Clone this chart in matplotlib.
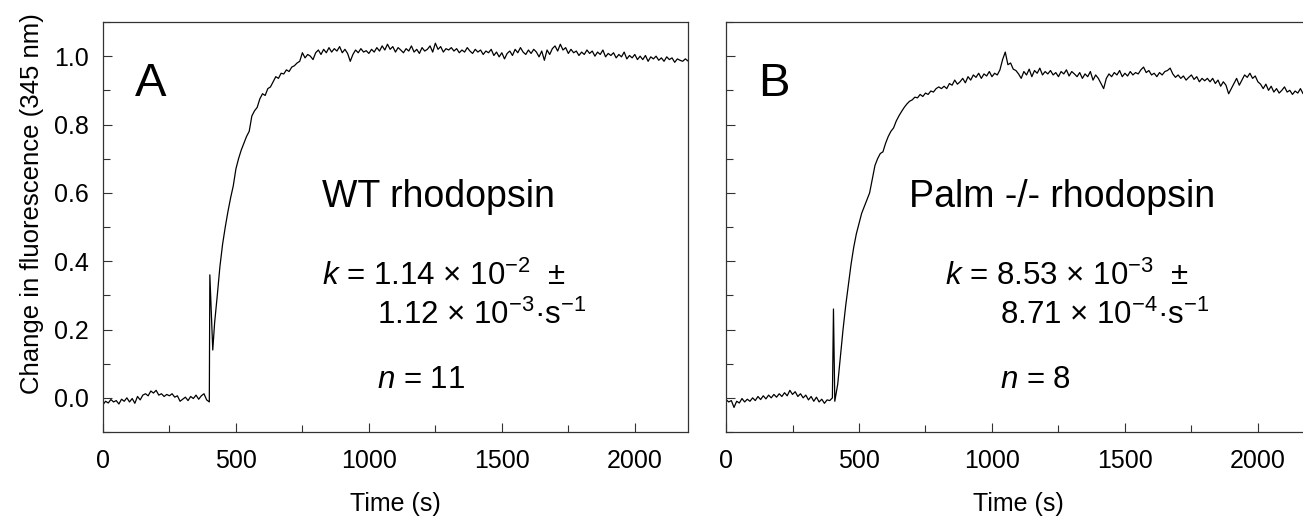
import matplotlib
matplotlib.use('Agg')
import matplotlib.pyplot as plt
from matplotlib.ticker import MultipleLocator

plt.rcParams['font.family'] = ['Liberation Sans', 'DejaVu Sans']
plt.rcParams['mathtext.fontset'] = 'custom'
plt.rcParams['mathtext.rm'] = 'Liberation Sans'
plt.rcParams['mathtext.it'] = 'Liberation Sans:italic'

# sampling times (s): baseline, injection spike, rise + plateau
t_wt = list(range(0, 400, 10)) + [400, 402, 413] + list(range(420, 2201, 10))
t_palm = list(range(0, 400, 10)) + [400, 404, 409] + list(range(420, 2201, 10))

# WT rhodopsin trace
wt_base = [-0.02, -0.01, -0.015, -0.005, -0.012, -0.008, -0.018, -0.004, -0.01, 0.0,
           -0.012, -0.002, -0.016, 0.004, -0.006, 0.008, 0.012, 0.006, 0.02, 0.014,
           0.022, 0.008, 0.012, 0.004, 0.01, 0.006, 0.012, 0.002, 0.006, -0.01,
           -0.004, 0.002, -0.008, 0.004, -0.002, 0.008, -0.004, 0.006, 0.012, -0.006]
wt_spike = [-0.012, 0.36, 0.14]
wt_rise = [0.22, 0.30, 0.385, 0.45, 0.50, 0.545, 0.585, 0.62, 0.67, 0.70,
           0.725, 0.745, 0.765, 0.78, 0.825, 0.84, 0.85, 0.875, 0.89, 0.885,
           0.905, 0.91, 0.925, 0.94, 0.935, 0.95, 0.948, 0.96, 0.955, 0.968,
           0.972, 0.98, 0.985, 1.01, 0.995, 1.005, 1.0, 0.99, 1.01, 1.018]
wt_plateau = [1.005, 1.02, 1.01, 1.025, 1.012, 1.022, 1.015, 1.028, 1.01, 1.02,
              1.008, 0.985, 1.005, 1.018, 1.01, 1.022, 1.012, 1.016, 1.008, 1.02,
              1.012, 1.025, 1.015, 1.03, 1.018, 1.035, 1.02, 1.028, 1.012, 1.025,
              1.018, 1.01, 1.022, 1.015, 1.03, 1.012, 1.02, 1.008, 1.025, 1.015,
              1.02, 1.03, 1.012, 1.038, 1.02, 1.028, 1.012, 1.022, 1.018, 1.025,
              1.015, 1.022, 1.01, 1.018, 1.012, 1.025, 1.015, 1.008, 1.02, 1.012,
              1.018, 1.005, 1.015, 1.01, 1.02, 1.002, 1.012, 0.998, 1.01, 0.992,
              1.008, 1.015, 1.002, 1.02, 1.01, 1.025, 1.012, 1.005, 1.018, 1.008,
              1.02, 1.012, 0.998, 1.015, 0.988, 1.018, 1.005, 1.022, 1.03, 1.015,
              1.035, 1.018, 1.025, 1.008, 1.02, 1.01, 1.015, 1.002, 1.012, 1.005,
              1.018, 1.008, 1.015, 1.0, 1.012, 1.005, 1.018, 0.998, 1.008, 1.002,
              1.01, 0.995, 1.005, 0.998, 1.012, 0.992, 1.002, 0.995, 1.005, 0.99,
              1.0, 0.99, 1.002, 0.985, 0.998, 0.992, 1.0, 0.988, 0.995, 0.985,
              0.998, 0.99, 0.995, 0.982, 0.992, 0.988, 0.985, 0.992, 0.986]

# Palm -/- rhodopsin trace
palm_base = [-0.005, -0.012, -0.008, -0.028, -0.01, -0.015, -0.002, -0.012, -0.004, -0.01,
             0.0, -0.008, 0.004, -0.005, 0.006, -0.003, 0.008, 0.0, 0.01, 0.002,
             0.012, 0.004, 0.015, 0.006, 0.022, 0.01, 0.018, 0.004, 0.012, 0.0,
             0.008, -0.006, 0.004, -0.01, 0.002, -0.012, -0.004, -0.016, -0.006, -0.008]
palm_spike = [0.0, 0.26, -0.01]
palm_rise = [0.04, 0.12, 0.20, 0.27, 0.33, 0.39, 0.44, 0.48, 0.51, 0.54,
             0.56, 0.58, 0.60, 0.64, 0.68, 0.70, 0.715, 0.72, 0.745, 0.765,
             0.78, 0.79, 0.81, 0.825, 0.838, 0.85, 0.86, 0.868, 0.872, 0.88,
             0.878, 0.888, 0.882, 0.892, 0.888, 0.898, 0.895, 0.905, 0.91, 0.905]
palm_plateau = [0.912, 0.905, 0.92, 0.915, 0.93, 0.918, 0.925, 0.935, 0.922, 0.94,
                0.93, 0.945, 0.938, 0.95, 0.935, 0.948, 0.942, 0.955, 0.94, 0.95,
                0.945, 0.96, 0.99, 1.012, 0.975, 0.98, 0.962, 0.958, 0.948, 0.935,
                0.955, 0.945, 0.962, 0.94, 0.958, 0.95, 0.965, 0.945, 0.955, 0.948,
                0.958, 0.945, 0.952, 0.94, 0.955, 0.948, 0.96, 0.942, 0.955, 0.948,
                0.94, 0.952, 0.935, 0.948, 0.94, 0.955, 0.93, 0.945, 0.935, 0.92,
                0.905, 0.935, 0.948, 0.94, 0.952, 0.945, 0.958, 0.94, 0.95, 0.942,
                0.955, 0.945, 0.952, 0.948, 0.96, 0.968, 0.952, 0.958, 0.945, 0.95,
                0.94, 0.952, 0.945, 0.955, 0.958, 0.965, 0.948, 0.938, 0.945, 0.935,
                0.942, 0.93, 0.938, 0.945, 0.932, 0.94, 0.925, 0.935, 0.928, 0.935,
                0.925, 0.935, 0.92, 0.93, 0.912, 0.925, 0.915, 0.89, 0.905, 0.92,
                0.935, 0.915, 0.93, 0.945, 0.938, 0.95, 0.935, 0.942, 0.925, 0.918,
                0.905, 0.918, 0.9, 0.912, 0.895, 0.905, 0.892, 0.9, 0.91, 0.895,
                0.9, 0.888, 0.898, 0.892, 0.905, 0.89, 0.895, 0.9, 0.893]

y_wt = wt_base + wt_spike + wt_rise + wt_plateau
y_palm = palm_base + palm_spike + palm_rise + palm_plateau

panels = [
    dict(t=t_wt, y=y_wt, letter='A', name='WT rhodopsin',
         k1=r'$\mathit{k}$ = 1.14 × 10$^{-2}$  ±',
         k2=r'1.12 × 10$^{-3}$·s$^{-1}$', n=r'$\mathit{n}$ = 11'),
    dict(t=t_palm, y=y_palm, letter='B', name='Palm -/- rhodopsin',
         k1=r'$\mathit{k}$ = 8.53 × 10$^{-3}$  ±',
         k2=r'8.71 × 10$^{-4}$·s$^{-1}$', n=r'$\mathit{n}$ = 8'),
]

fig = plt.figure(figsize=(13.03, 5.2), dpi=100)
ax_a = fig.add_axes([0.0790, 0.1692, 0.449, 0.7885])
ax_b = fig.add_axes([0.5572, 0.1692, 0.449, 0.7885])

for ax, p in zip([ax_a, ax_b], panels):
    ax.plot(p['t'], p['y'], color='black', lw=0.9)
    ax.set_xlim(0, 2200)
    ax.set_ylim(-0.1, 1.1)
    ax.xaxis.set_major_locator(MultipleLocator(500))
    ax.xaxis.set_minor_locator(MultipleLocator(250))
    ax.yaxis.set_major_locator(MultipleLocator(0.2))
    ax.yaxis.set_minor_locator(MultipleLocator(0.1))
    ax.tick_params(which='both', direction='in', color='#333333', width=0.8)
    ax.tick_params(which='major', length=6.5, labelsize=18)
    ax.tick_params(which='minor', length=5)
    ax.tick_params(axis='x', pad=12)
    ax.tick_params(axis='y', pad=10)
    for s in ax.spines.values():
        s.set_color('#333333')
        s.set_linewidth(0.9)
    ax.set_xlabel('Time (s)', fontsize=18, labelpad=14)

    ax.text(120, 0.883, p['letter'], fontsize=34)
    ax.text(1263, 0.558, p['name'], fontsize=27, ha='center')
    ax.text(823, 0.330, p['k1'], fontsize=22.5)
    ax.text(1030, 0.216, p['k2'], fontsize=22.5)
    ax.text(1030, 0.029, p['n'], fontsize=22.5)

ax_a.yaxis.set_major_formatter(plt.FormatStrFormatter('%.1f'))
ax_a.set_ylabel('Change in fluorescence (345 nm)', fontsize=18.5)
ax_a.yaxis.set_label_coords(-0.101, 0.556)
ax_b.tick_params(axis='y', labelleft=False)
ax_b.spines['right'].set_visible(False)

fig.savefig('out.png', dpi=100)
